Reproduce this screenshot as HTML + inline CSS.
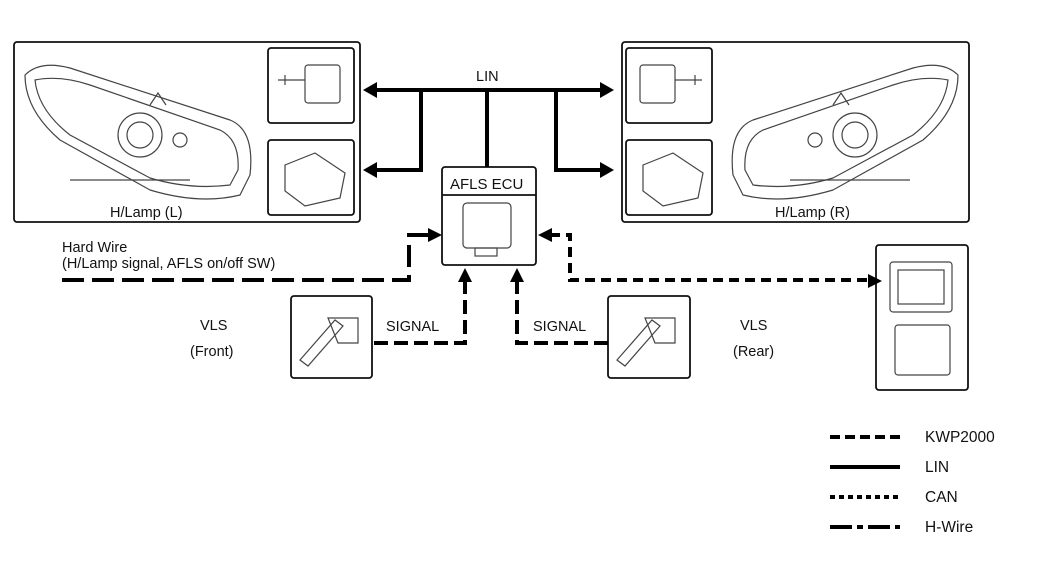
<!DOCTYPE html>
<html><head><meta charset="utf-8"><style>
body{margin:0;background:#fff}
svg text{font-family:"Liberation Sans",Arial,sans-serif;fill:#111}
</style></head><body>
<svg width="1050" height="558" viewBox="0 0 1050 558" xmlns="http://www.w3.org/2000/svg">
<g fill="none" stroke="#111" stroke-width="1.8">
<rect x="14" y="42" width="346" height="180" rx="3"/>
<rect x="268" y="48" width="86" height="75" rx="3"/>
<rect x="268" y="140" width="86" height="75" rx="3"/>
<rect x="622" y="42" width="347" height="180" rx="3"/>
<rect x="626" y="48" width="86" height="75" rx="3"/>
<rect x="626" y="140" width="86" height="75" rx="3"/>
<rect x="442" y="167" width="94" height="98" rx="3"/>
<line x1="442" y1="195" x2="536" y2="195"/>
<rect x="291" y="296" width="81" height="82" rx="3"/>
<rect x="608" y="296" width="82" height="82" rx="3"/>
<rect x="876" y="245" width="92" height="145" rx="3"/>
</g>
<g fill="none" stroke="#444" stroke-width="1.2">
<path d="M25,75 Q40,60 70,68 L230,120 Q255,130 250,175 L240,195 Q200,205 150,190 L60,140 Q25,110 25,75z"/>
<path d="M35,80 Q60,75 90,85 L220,130 Q240,140 238,170 L230,185 Q190,190 150,178 L70,135 Q38,110 35,80z"/>
<circle cx="140" cy="135" r="22"/><circle cx="140" cy="135" r="13"/>
<circle cx="180" cy="140" r="7"/>
<path d="M150,105 l8,-12 l8,12 M70,180 h120"/>
<path d="M958,75 Q943,60 913,68 L753,120 Q728,130 733,175 L743,195 Q783,205 833,190 L923,140 Q958,110 958,75z"/>
<path d="M948,80 Q923,75 893,85 L763,130 Q743,140 745,170 L753,185 Q793,190 833,178 L913,135 Q945,110 948,80z"/>
<circle cx="855" cy="135" r="22"/><circle cx="855" cy="135" r="13"/>
<circle cx="815" cy="140" r="7"/>
<path d="M833,105 l8,-12 l8,12 M790,180 h120"/>
<rect x="305" y="65" width="35" height="38" rx="3"/><path d="M278,80 h27 M285,75 v10"/>
<rect x="640" y="65" width="35" height="38" rx="3"/><path d="M675,80 h27 M695,75 v10"/>
<path d="M285,165 l30,-12 l30,20 l-5,25 l-35,8 l-20,-15z"/>
<path d="M643,165 l30,-12 l30,20 l-5,25 l-35,8 l-20,-15z"/>
<rect x="463" y="203" width="48" height="45" rx="4"/><rect x="475" y="248" width="22" height="8"/>
<path d="M300,360 l35,-40 l8,6 l-35,40z M328,318 h30 v25 h-20z"/>
<path d="M617,360 l35,-40 l8,6 l-35,40z M645,318 h30 v25 h-20z"/>
<rect x="890" y="262" width="62" height="50" rx="3"/><rect x="898" y="270" width="46" height="34"/>
<rect x="895" y="325" width="55" height="50" rx="3"/>
</g>
<g stroke="#000" stroke-width="4" fill="none">
<line x1="376" y1="90" x2="600" y2="90"/>
<polyline points="421,90 421,170 376,170"/>
<line x1="487" y1="90" x2="487" y2="167"/>
<polyline points="556,90 556,170 600,170"/>
</g>
<g fill="#000">
<path d="M363,90 l14,-8 v16z"/><path d="M614,90 l-14,-8 v16z"/>
<path d="M363,170 l14,-8 v16z"/><path d="M614,170 l-14,-8 v16z"/>
<path d="M442,235 l-14,-7 v14z"/><path d="M538,235 l14,-7 v14z"/>
<path d="M465,268 l-7,14 h14z"/><path d="M517,268 l-7,14 h14z"/>
<path d="M882,281 l-14,-7 v14z"/>
</g>
<g stroke="#000" stroke-width="4" fill="none">
<polyline points="62,280 409,280 409,235 430,235" stroke-dasharray="22,8"/>
<polyline points="550,235 570,235 570,280 870,280" stroke-dasharray="10,6"/>
<polyline points="374,343 465,343 465,280" stroke-dasharray="14,6"/>
<polyline points="608,343 517,343 517,280" stroke-dasharray="14,6"/>
<line x1="830" y1="437" x2="900" y2="437" stroke-dasharray="10,5"/>
<line x1="830" y1="467" x2="900" y2="467"/>
<line x1="830" y1="497" x2="900" y2="497" stroke-dasharray="5,4"/>
<line x1="830" y1="527" x2="900" y2="527" stroke-dasharray="22,5,6,5"/>
</g>
<g font-size="14.5">
<text x="476" y="81">LIN</text>
<text x="450" y="189" font-size="15">AFLS ECU</text>
<text x="110" y="217">H/Lamp (L)</text>
<text x="775" y="217">H/Lamp (R)</text>
<text x="62" y="252">Hard Wire</text>
<text x="62" y="268">(H/Lamp signal, AFLS on/off SW)</text>
<text x="200" y="330">VLS</text><text x="190" y="356">(Front)</text>
<text x="740" y="330">VLS</text><text x="733" y="356">(Rear)</text>
<text x="386" y="331">SIGNAL</text><text x="533" y="331">SIGNAL</text>
<text x="925" y="442" font-size="15.5">KWP2000</text>
<text x="925" y="472" font-size="15.5">LIN</text>
<text x="925" y="502" font-size="15.5">CAN</text>
<text x="925" y="532" font-size="15.5">H-Wire</text>
</g>
</svg>
</body></html>
